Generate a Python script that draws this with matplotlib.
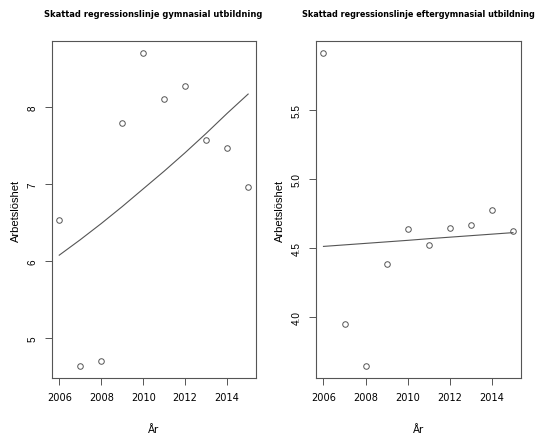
import matplotlib.pyplot as plt
import numpy as np

# data
years = [2006, 2007, 2008, 2009, 2010, 2011, 2012, 2013, 2014, 2015]
gymn = [6.53, 4.645, 4.71, 7.79, 8.70, 8.11, 8.27, 7.58, 7.47, 6.965]
gymn_fit = [6.08, 6.28, 6.49, 6.71, 6.94, 7.17, 7.41, 7.66, 7.92, 8.17]
efter = [5.913, 3.947, 3.643, 4.379, 4.634, 4.522, 4.645, 4.669, 4.772, 4.62]
efter_fit = [4.51, 4.521, 4.532, 4.543, 4.554, 4.566, 4.577, 4.588, 4.599, 4.61]

titles = ["Skattad regressionslinje gymnasial utbildning",
          "Skattad regressionslinje eftergymnasial utbildning"]
yticks = [[5, 6, 7, 8], [4.0, 4.5, 5.0, 5.5]]
ytick_labels = [["5", "6", "7", "8"], ["4.0", "4.5", "5.0", "5.5"]]
xticks = [2006, 2008, 2010, 2012, 2014]

fam = ['DejaVu Sans']
plain = ['Liberation Sans', 'DejaVu Sans']
title_w = [218, 234]   # pixel width of the titles in the reference

fig = plt.figure(figsize=(5.4, 4.39), dpi=100)
pos = [[0.0957, 0.136, 0.3778, 0.769], [0.585, 0.136, 0.379, 0.769]]
series = [(gymn, gymn_fit), (efter, efter_fit)]
renderer = fig.canvas.get_renderer()

for k in range(2):
    ax = fig.add_axes(pos[k])
    pts, fit = series[k]
    ax.plot(years, pts, 'o', ms=4.0, mfc='none', mec='#555555', mew=0.7)
    ax.plot(years, fit, color='#555555', lw=0.8)
    span = max(pts) - min(pts)
    ax.set_ylim(min(pts) - 0.04 * span, max(pts) + 0.04 * span)
    ax.set_xlim(2006 - 0.36, 2015 + 0.36)
    for s in ax.spines.values():
        s.set_color('#555555')
        s.set_linewidth(0.8)
    ax.set_xticks(xticks)
    ax.set_xticklabels([str(x) for x in xticks], family=fam,
                       fontstretch='condensed', fontsize=7.8)
    ax.set_yticks(yticks[k])
    ax.set_yticklabels(ytick_labels[k], family=plain, fontsize=7.2,
                       rotation=90, va='center')
    ax.tick_params(length=5, width=0.7, color='#555555', pad=5)
    ax.set_xlabel('År', family=fam, fontstretch='condensed', fontsize=8.2,
                  labelpad=16)
    ax.set_ylabel('Arbetslöshet', family=plain, fontsize=8.0, labelpad=5)
    t = ax.set_title(titles[k], family=fam, fontstretch='condensed',
                     fontsize=9.6, fontweight='bold', pad=18)
    # shrink the title until it has the reference width
    w = t.get_window_extent(renderer).width
    t.set_fontsize(9.6 * title_w[k] / w)

fig.savefig('out.png', dpi=100)
